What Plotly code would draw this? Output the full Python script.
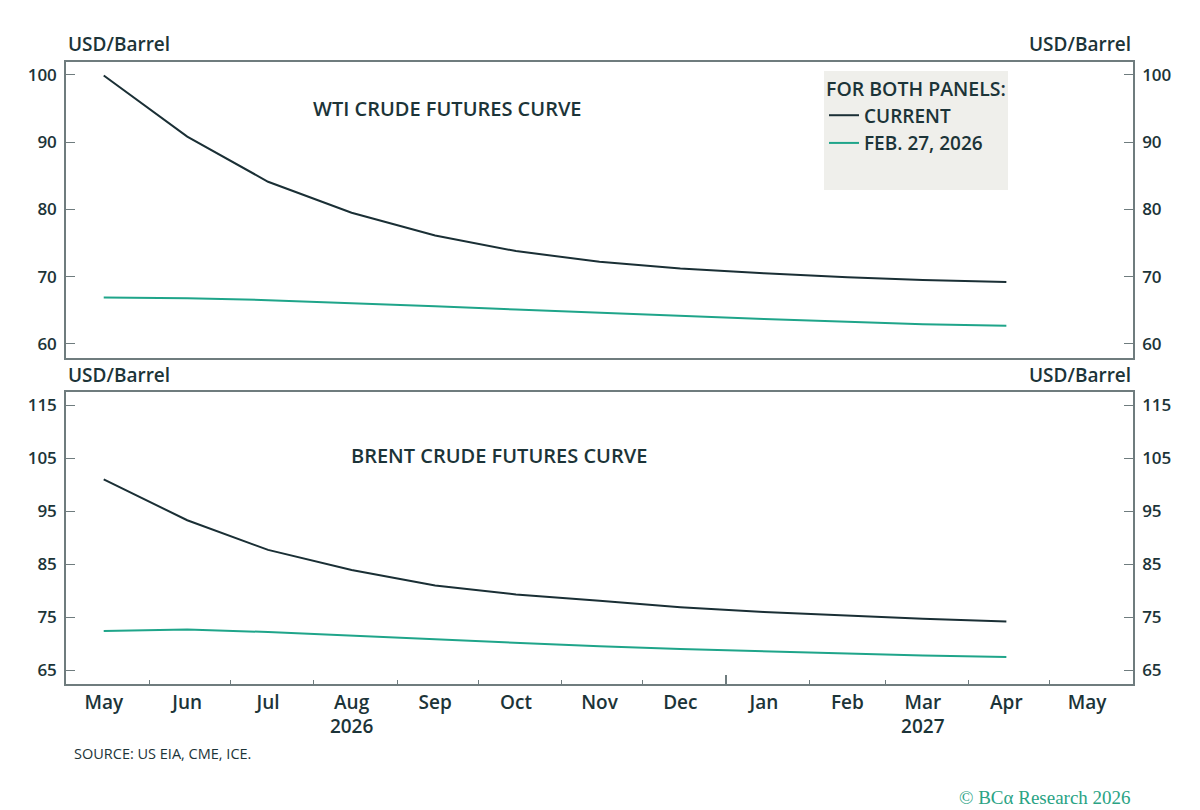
import plotly.graph_objects as go

# ---- data ----
months = ["2026-05-15", "2026-06-15", "2026-07-15", "2026-08-15", "2026-09-15", "2026-10-15",
          "2026-11-15", "2026-12-15", "2027-01-15", "2027-02-15", "2027-03-15", "2027-04-15"]
wti_current = [99.9, 90.8, 84.1, 79.5, 76.1, 73.8, 72.2, 71.2, 70.5, 69.9, 69.5, 69.2]
wti_feb27 = [66.9, 66.8, 66.5, 66.1, 65.6, 65.1, 64.6, 64.1, 63.7, 63.3, 62.9, 62.7]
brent_current = [101.0, 93.3, 87.7, 83.9, 81.0, 79.3, 78.1, 76.9, 76.0, 75.3, 74.7, 74.2]
brent_feb27 = [72.4, 72.7, 72.2, 71.5, 70.8, 70.2, 69.5, 69.0, 68.6, 68.1, 67.8, 67.5]

tick_dates = ["2026-05-15", "2026-06-15", "2026-07-15", "2026-08-15", "2026-09-15", "2026-10-15",
              "2026-11-15", "2026-12-15", "2027-01-15", "2027-02-15", "2027-03-15", "2027-04-15",
              "2027-05-15"]
tick_text = ["May", "Jun", "Jul", "Aug<br>2026", "Sep", "Oct", "Nov", "Dec", "Jan", "Feb",
             "Mar<br>2027", "Apr", "May"]
year_break = ["2027-01-01"]
wti_ticks = [60, 70, 80, 90, 100]
brent_ticks = [65, 75, 85, 95, 105, 115]

# ---- style ----
FONT = "Open Sans"
W = 600
TXT = "#1c3438"
AX = "#6f7c7e"
C_CUR = "#1a2f35"
C_FEB = "#1fa58a"

fig = go.Figure()
fig.add_trace(go.Scatter(x=months, y=wti_current, name="CURRENT", mode="lines",
                         line=dict(color=C_CUR, width=2), xaxis="x", yaxis="y"))
fig.add_trace(go.Scatter(x=months, y=wti_feb27, name="FEB. 27, 2026", mode="lines",
                         line=dict(color=C_FEB, width=2), xaxis="x", yaxis="y"))
fig.add_trace(go.Scatter(x=[None], y=[None], name=" ", mode="lines",
                         line=dict(color="rgba(0,0,0,0)", width=0), xaxis="x", yaxis="y",
                         hoverinfo="skip"))
fig.add_trace(go.Scatter(x=months, y=brent_current, name="CURRENT", mode="lines", showlegend=False,
                         line=dict(color=C_CUR, width=2), xaxis="x2", yaxis="y2"))
fig.add_trace(go.Scatter(x=months, y=brent_feb27, name="FEB. 27, 2026", mode="lines", showlegend=False,
                         line=dict(color=C_FEB, width=2), xaxis="x2", yaxis="y2"))
# traces so that the extra (right / tick) axes render
fig.add_trace(go.Scatter(x=[None], y=[None], xaxis="x", yaxis="y3", showlegend=False, hoverinfo="skip"))
fig.add_trace(go.Scatter(x=[None], y=[None], xaxis="x3", yaxis="y4", showlegend=False, hoverinfo="skip"))
fig.add_trace(go.Scatter(x=[None], y=[None], xaxis="x4", yaxis="y2", showlegend=False, hoverinfo="skip"))

xr = ["2026-05-01", "2027-06-01"]
top_dom = [0.5241, 1.0]
bot_dom = [0.0, 0.4695]
tickfont = dict(family=FONT, size=17, color=TXT, weight=W)

ycommon = dict(showline=True, linecolor=AX, linewidth=1.5, ticks="inside", ticklen=9,
               tickcolor=AX, tickwidth=1.2, showgrid=False, zeroline=False, tickfont=tickfont,
               tickmode="array", ticklabelstandoff=4)

fig.update_layout(
    width=1200, height=810,
    margin=dict(l=58, r=75, t=54, b=134),
    paper_bgcolor="white", plot_bgcolor="white",
    font=dict(family=FONT, color=TXT),
    xaxis=dict(domain=[0, 1], anchor="y", type="date", range=xr, showline=True, mirror=True,
               linecolor=AX, linewidth=1.5, ticks="", showticklabels=False, showgrid=False,
               zeroline=False),
    xaxis2=dict(domain=[0, 1], anchor="y2", type="date", range=xr, showline=True, mirror=True,
                linecolor=AX, linewidth=1.5, showgrid=False, zeroline=False,
                tickmode="array", tickvals=tick_dates, ticktext=tick_text, ticks="",
                tickfont=dict(family=FONT, size=19, color=TXT, weight=W), ticklabelstandoff=0),
    xaxis3=dict(domain=[0, 1], anchor="y2", overlaying="x2", type="date", range=xr,
                tickmode="linear", tick0="2026-05-01", dtick="M1", ticks="inside", ticklen=4,
                tickcolor=AX, tickwidth=1.2, showticklabels=False, showgrid=False,
                showline=False, zeroline=False),
    xaxis4=dict(domain=[0, 1], anchor="y2", overlaying="x2", type="date", range=xr,
                tickmode="array", tickvals=year_break, ticks="inside", ticklen=9,
                tickcolor=AX, tickwidth=1.5, showticklabels=False, showgrid=False,
                showline=False, zeroline=False),
    yaxis=dict(domain=top_dom, anchor="x", range=[57.9, 101.9], tickvals=wti_ticks,
               side="left", **ycommon),
    yaxis3=dict(domain=top_dom, anchor="x", overlaying="y", range=[57.9, 101.9],
                tickvals=wti_ticks, side="right", **ycommon),
    yaxis2=dict(domain=bot_dom, anchor="x2", range=[62.4, 117.5], tickvals=brent_ticks,
                side="left", **ycommon),
    yaxis4=dict(domain=bot_dom, anchor="x3", overlaying="y2", range=[62.4, 117.5],
                tickvals=brent_ticks, side="right", **ycommon),
    legend=dict(x=0.7104, y=0.9855, xanchor="left", yanchor="top", bgcolor="#efefeb",
                borderwidth=0, font=dict(family=FONT, size=19, color=TXT, weight=W),
                title=dict(text="FOR BOTH PANELS:", font=dict(family=FONT, size=19.5, color=TXT, weight=W)),
                itemwidth=30, tracegroupgap=0),
    showlegend=True,
)

ann_font = dict(family=FONT, size=19, color=TXT, weight=W)
title_font = dict(family=FONT, size=20, color=TXT, weight=W)
annotations = [
    dict(text="USD/Barrel", x=0, y=1.029, xanchor="left", yanchor="middle", font=ann_font),
    dict(text="USD/Barrel", x=1, y=1.029, xanchor="right", yanchor="middle", font=ann_font),
    dict(text="USD/Barrel", x=0, y=0.4968, xanchor="left", yanchor="middle", font=ann_font),
    dict(text="USD/Barrel", x=1, y=0.4968, xanchor="right", yanchor="middle", font=ann_font),
    dict(text="WTI CRUDE FUTURES CURVE", x=0.358, y=0.926, xanchor="center", yanchor="middle",
         font=title_font),
    dict(text="BRENT CRUDE FUTURES CURVE", x=0.406, y=0.3666, xanchor="center", yanchor="middle",
         font=title_font),
    dict(text="SOURCE: US EIA, CME, ICE.", x=0.0056, y=-0.111, xanchor="left", yanchor="middle",
         font=dict(family=FONT, size=14.5, color=TXT, weight=500)),
    dict(text="© BCα Research 2026", x=1, y=-0.1817, xanchor="right", yanchor="middle",
         font=dict(family="Liberation Serif", size=19, color="#2aa384")),
]
for a in annotations:
    a.update(xref="paper", yref="paper", showarrow=False)
fig.update_layout(annotations=annotations)

fig.write_html("out.html")
